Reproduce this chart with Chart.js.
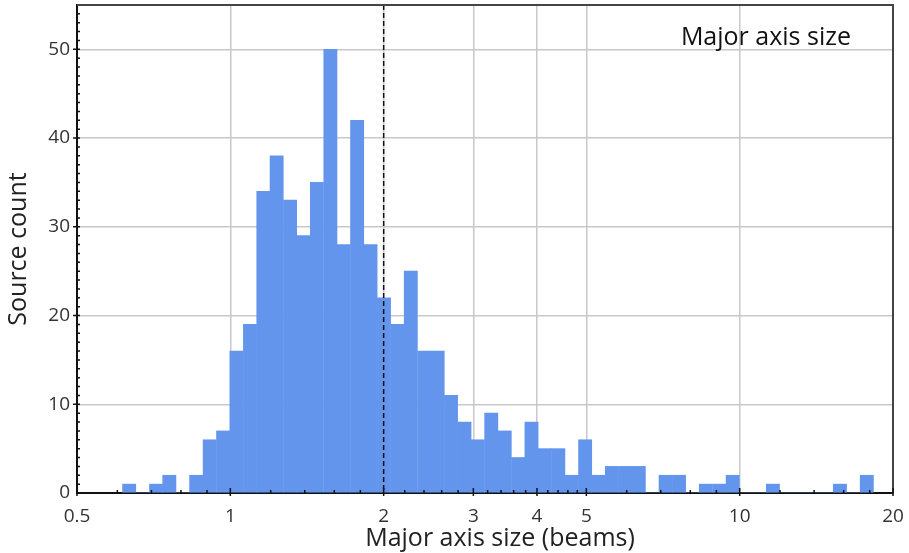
<!DOCTYPE html>
<html>
<head>
<meta charset="utf-8">
<script src="https://cdn.jsdelivr.net/npm/chart.js@4.4.1/dist/chart.umd.min.js"></script>
<style>
    html, body { margin: 0; padding: 0; background: #fff; }
    #wrap { width: 909px; height: 553px; }
</style>
</head>
<body>
<div id="wrap"><canvas id="hist-majoraxis"></canvas></div>
<script>
// bin centres (beams), log-spaced bins
let binCenters = [0.633, 0.673, 0.715, 0.759, 0.807, 0.857, 0.911, 0.968, 1.028, 1.093,
    1.161, 1.233, 1.310, 1.392, 1.479, 1.572, 1.670, 1.774, 1.885, 2.003,
    2.128, 2.261, 2.403, 2.553, 2.712, 2.882, 3.062, 3.253, 3.457, 3.673,
    3.902, 4.146, 4.405, 4.681, 4.973, 5.284, 5.614, 5.965, 6.338, 6.734,
    7.155, 7.602, 8.078, 8.582, 9.119, 9.689, 10.294, 10.938, 11.621, 12.348,
    13.119, 13.939, 14.810, 15.736, 16.720, 17.765];
let sourceCounts = [1, 0, 1, 2, 0, 2, 6, 7, 16, 19,
    34, 38, 33, 29, 35, 50, 28, 42, 28, 22,
    19, 25, 16, 16, 11, 8, 6, 9, 7, 4,
    8, 5, 5, 2, 6, 2, 3, 3, 3, 0,
    2, 2, 0, 1, 1, 2, 0, 0, 1, 0,
    0, 0, 0, 1, 0, 2];

let xTicks = [0.5, 1, 2, 3, 4, 5, 10, 20];
let xMinorTicks = [0.6, 0.7, 0.8, 0.9, 1.2, 1.4, 1.6, 1.8, 2.2, 2.4, 2.6, 2.8,
    3.2, 3.4, 3.6, 3.8, 4.2, 4.4, 4.6, 4.8, 6, 7, 8, 9, 12, 14, 16, 18];
let yTicks = [0, 10, 20, 30, 40, 50];
let markerValue = 2;
let panelLabel = "Major axis size";
let xTitle = "Major axis size (beams)";

let fontName = "'Open Sans', 'Noto Sans', sans-serif";

let framePlugin = {
    id: 'frame',
    afterDatasetsDraw: function (chart) {
        let ctx = chart.ctx;
        let area = chart.chartArea;
        let xs = chart.scales.x;
        let ys = chart.scales.y;

        ctx.save();
        // dashed marker line
        let mx = xs.getPixelForValue(markerValue);
        ctx.strokeStyle = '#111';
        ctx.lineWidth = 1.5;
        ctx.setLineDash([5, 3]);
        ctx.beginPath();
        ctx.moveTo(mx, area.top);
        ctx.lineTo(mx, area.bottom);
        ctx.stroke();
        ctx.setLineDash([]);

        // top and right frame
        ctx.strokeStyle = '#444';
        ctx.lineWidth = 2;
        ctx.beginPath();
        ctx.moveTo(area.left, area.top);
        ctx.lineTo(area.right, area.top);
        ctx.lineTo(area.right, area.bottom);
        ctx.stroke();

        // minor ticks
        ctx.strokeStyle = '#111';
        ctx.lineWidth = 1.5;
        ctx.beginPath();
        for (let i = 0; i < xMinorTicks.length; i++) {
            let px = xs.getPixelForValue(xMinorTicks[i]);
            ctx.moveTo(px, area.bottom);
            ctx.lineTo(px, area.bottom - 3);
        }
        for (let i = 0; i < xTicks.length; i++) {
            let px = xs.getPixelForValue(xTicks[i]);
            ctx.moveTo(px, area.bottom + 3);
            ctx.lineTo(px, area.bottom - 5);
        }
        for (let v = 1; v < 55; v++) {
            let py = ys.getPixelForValue(v);
            let big = v % 10 === 0;
            ctx.moveTo(area.left - (big ? 4 : 1), py);
            ctx.lineTo(area.left + 3, py);
        }
        ctx.stroke();

        // panel label
        ctx.fillStyle = '#111';
        ctx.font = '25px ' + fontName;
        ctx.textAlign = 'right';
        ctx.textBaseline = 'alphabetic';
        ctx.fillText(panelLabel, area.right - 42, area.top + 40);

        // x axis title
        ctx.fillStyle = '#222';
        ctx.textAlign = 'center';
        ctx.fillText(xTitle, 500, 546);
        ctx.restore();
    }
};

new Chart(document.getElementById("hist-majoraxis"), {
    type: 'bar',
    data: {
        datasets: [{
            label: panelLabel,
            data: binCenters.map(function (c, i) { return { x: c, y: sourceCounts[i] }; }),
            backgroundColor: '#6495ed',
            borderWidth: 0,
            categoryPercentage: 1.0,
            barPercentage: 1.0
        }]
    },
    options: {
        responsive: true,
        maintainAspectRatio: false,
        animation: false,
        layout: { padding: { top: 5, right: 16, left: 0, bottom: 0 } },
        plugins: {
            legend: { display: false },
            tooltip: { enabled: false }
        },
        scales: {
            x: {
                type: 'logarithmic',
                min: 0.5,
                max: 20,
                offset: false,
                afterBuildTicks: function (scale) {
                    scale.ticks = xTicks.map(function (v) { return { value: v }; });
                },
                afterFit: function (scale) {
                    scale.height = 60;
                    scale.paddingLeft = 0;
                    scale.paddingRight = 0;
                },
                ticks: {
                    color: '#333',
                    font: { family: fontName, size: 19 },
                    padding: 12,
                    maxRotation: 0,
                    autoSkip: false,
                    callback: function (value) { return String(value); }
                },
                grid: {
                    offset: false,
                    drawTicks: false,
                    lineWidth: 1.5,
                    color: function (ctx) {
                        let v = ctx.tick ? ctx.tick.value : null;
                        return (v === 0.5 || v === 20) ? 'rgba(0,0,0,0)' : '#c8c8c8';
                    }
                },
                border: { color: '#111', width: 2 },
                title: { display: false }
            },
            y: {
                min: 0,
                max: 55,
                afterBuildTicks: function (scale) {
                    scale.ticks = yTicks.map(function (v) { return { value: v }; });
                },
                afterFit: function (scale) {
                    scale.width = 77;
                    scale.paddingTop = 0;
                    scale.paddingBottom = 0;
                },
                ticks: {
                    color: '#333',
                    font: { family: fontName, size: 19 },
                    padding: 7
                },
                grid: {
                    drawTicks: false,
                    lineWidth: 1.5,
                    color: function (ctx) {
                        return ctx.tick && ctx.tick.value === 0 ? 'rgba(0,0,0,0)' : '#c8c8c8';
                    }
                },
                border: { color: '#111', width: 2 },
                title: {
                    display: true,
                    text: 'Source count',
                    color: '#222',
                    font: { family: fontName, size: 25 },
                    padding: { top: 4, bottom: 0 }
                }
            }
        }
    },
    plugins: [framePlugin]
});
</script>
</body>
</html>
